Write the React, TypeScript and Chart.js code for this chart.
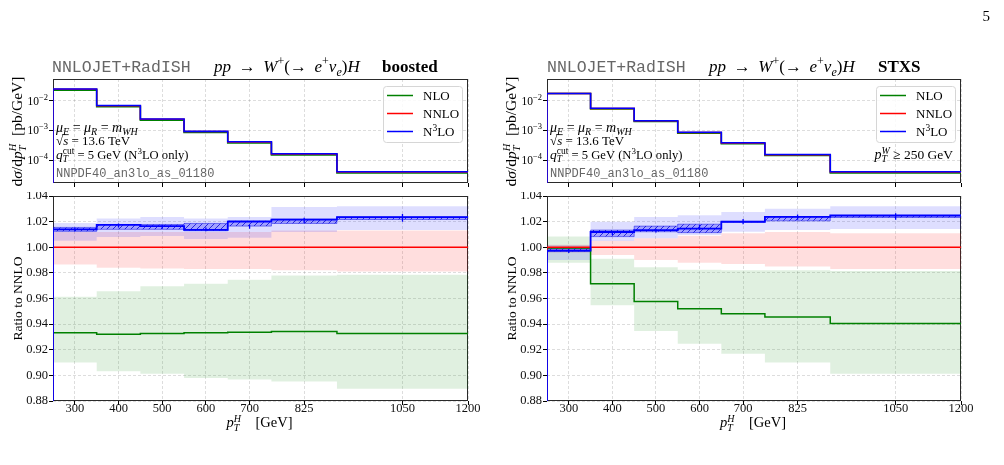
import React, { useEffect, useRef } from 'react';
import { Chart, registerables } from 'chart.js';

Chart.register(...registerables);

// ---------- binning, ticks and axis ranges ----------
const binEdges = [250, 350, 450, 550, 650, 750, 900, 1200];
const xTickValues = [300, 400, 500, 600, 700, 825, 1050, 1200];
const ratioTickValues = [0.88, 0.9, 0.92, 0.94, 0.96, 0.98, 1.0, 1.02, 1.04];
const logTickValues = [1e-4, 1e-3, 1e-2];
const logAxisRange = [1.7e-5, 0.053];
const ratioAxisRange = [0.88, 1.04];
const legendLabels = ['NLO', 'NNLO', 'N3LO'];

// ---------- boosted selection ----------
const boostedNNLO = [0.0241, 0.0067, 0.00236, 0.00091, 0.000403, 0.00016, 0.0000396];
const boostedNNLORatio = [1, 1, 1, 1, 1, 1, 1];
const boostedNNLOLo = [0.9866, 0.984, 0.9835, 0.983, 0.983, 0.982, 0.981];
const boostedNNLOHi = [1.012, 1.012, 1.012, 1.012, 1.012, 1.013, 1.013];
const boostedNLORatio = [0.9332, 0.9321, 0.9327, 0.9332, 0.9337, 0.9342, 0.9327];
const boostedNLOLo = [0.91, 0.9033, 0.9012, 0.898, 0.8968, 0.8953, 0.8896];
const boostedNLOHi = [0.9613, 0.9657, 0.9696, 0.9716, 0.9747, 0.978, 0.9786];
const boostedN3LORatio = [1.014, 1.0175, 1.0165, 1.0135, 1.02, 1.0215, 1.0235];
const boostedN3LOLo = [1.005, 1.008, 1.0088, 1.0065, 1.0075, 1.012, 1.0134];
const boostedN3LOHi = [1.019, 1.0225, 1.0237, 1.0225, 1.0237, 1.0315, 1.032];
const boostedQtLo = [1.0124, 1.014, 1.014, 1.0129, 1.0165, 1.0186, 1.0217];
const boostedQtHi = [1.0155, 1.0178, 1.0178, 1.0186, 1.0206, 1.022, 1.0237];
const boostedN3LOPoint = [1.014, 1.017, 1.016, 1.014, 1.016, 1.021, 1.023];
const boostedN3LOStat = [0.0015, 0.0015, 0.0015, 0.0015, 0.0015, 0.002, 0.003];

// ---------- STXS selection ----------
const stxsNNLO = [0.01725, 0.00543, 0.00207, 0.000848, 0.000373, 0.000151, 0.0000395];
const stxsNNLORatio = [1, 1, 1, 1, 1, 1, 1];
const stxsNNLOLo = [0.996, 0.994, 0.99, 0.988, 0.987, 0.985, 0.983];
const stxsNNLOHi = [1.002, 1.005, 1.007, 1.009, 1.011, 1.012, 1.011];
const stxsNLORatio = [0.9995, 0.9716, 0.9577, 0.952, 0.9481, 0.9456, 0.9404];
const stxsNLOLo = [0.988, 0.9548, 0.9347, 0.9247, 0.9169, 0.91, 0.9012];
const stxsNLOHi = [1.0083, 0.991, 0.9843, 0.9825, 0.982, 0.982, 0.9814];
const stxsN3LORatio = [0.9974, 1.0119, 1.0134, 1.0145, 1.0199, 1.0237, 1.0248];
const stxsN3LOLo = [0.99, 1.0049, 1.007, 1.0095, 1.0121, 1.0134, 1.0142];
const stxsN3LOHi = [1.0015, 1.0199, 1.0237, 1.025, 1.0276, 1.03, 1.032];
const stxsQtLo = [0.9966, 1.0083, 1.0121, 1.0114, 1.0196, 1.0206, 1.0232];
const stxsQtHi = [0.9992, 1.0134, 1.0165, 1.018, 1.0202, 1.0237, 1.0248];
const stxsN3LOPoint = [0.997, 1.011, 1.013, 1.0155, 1.02, 1.0235, 1.024];
const stxsN3LOStat = [0.0015, 0.0015, 0.0015, 0.002, 0.002, 0.002, 0.0025];

const SERIF = '"Liberation Serif", "Times New Roman", "DejaVu Serif", serif';
const MONO = '"Liberation Mono", "DejaVu Sans Mono", monospace';
const GREEN = '#008000';
const RED = '#ff0000';
const BLUE = '#0000ff';
const GRID = 'rgba(0,0,0,0.17)';

type Panel = {
  nnlo: number[];
  nnloRatio: number[]; nnloLo: number[]; nnloHi: number[];
  nloRatio: number[]; nloLo: number[]; nloHi: number[];
  n3loRatio: number[]; n3loLo: number[]; n3loHi: number[];
  qtLo: number[]; qtHi: number[];
  point: number[]; stat: number[];
};

const boosted: Panel = {
  nnlo: boostedNNLO, nnloRatio: boostedNNLORatio, nnloLo: boostedNNLOLo, nnloHi: boostedNNLOHi,
  nloRatio: boostedNLORatio, nloLo: boostedNLOLo, nloHi: boostedNLOHi,
  n3loRatio: boostedN3LORatio, n3loLo: boostedN3LOLo, n3loHi: boostedN3LOHi,
  qtLo: boostedQtLo, qtHi: boostedQtHi, point: boostedN3LOPoint, stat: boostedN3LOStat,
};
const stxs: Panel = {
  nnlo: stxsNNLO, nnloRatio: stxsNNLORatio, nnloLo: stxsNNLOLo, nnloHi: stxsNNLOHi,
  nloRatio: stxsNLORatio, nloLo: stxsNLOLo, nloHi: stxsNLOHi,
  n3loRatio: stxsN3LORatio, n3loLo: stxsN3LOLo, n3loHi: stxsN3LOHi,
  qtLo: stxsQtLo, qtHi: stxsQtHi, point: stxsN3LOPoint, stat: stxsN3LOStat,
};

// ---------- rich text (sub/superscripts) ----------
type Seg = { t: string; size: number; it?: boolean; bold?: boolean; mono?: boolean; dy?: number; color?: string; stack?: boolean; over?: boolean };
const M = (t: string, size: number, extra: Partial<Seg> = {}): Seg => ({ t, size, it: true, ...extra });
const R = (t: string, size: number, extra: Partial<Seg> = {}): Seg => ({ t, size, ...extra });

function segFont(s: Seg) {
  return `${s.it ? 'italic ' : ''}${s.bold ? 'bold ' : ''}${s.size}px ${s.mono ? MONO : SERIF}`;
}

function drawRich(ctx: CanvasRenderingContext2D, x: number, y: number, segs: Seg[], align: 'left' | 'center' | 'right' = 'left') {
  let cx = 0;
  let prevStart = 0;
  let prevW = 0;
  const items: [Seg, number, number][] = [];
  for (const s of segs) {
    ctx.font = segFont(s);
    const w = ctx.measureText(s.t).width;
    const sx = s.stack ? prevStart : cx;
    cx = s.stack ? prevStart + Math.max(prevW, w) : cx + w;
    items.push([s, sx, w]);
    prevStart = sx;
    prevW = w;
  }
  const ox = align === 'center' ? x - cx / 2 : align === 'right' ? x - cx : x;
  ctx.save();
  ctx.textAlign = 'left';
  ctx.textBaseline = 'alphabetic';
  for (const [s, sx, w] of items) {
    ctx.font = segFont(s);
    ctx.fillStyle = s.color || '#000';
    ctx.fillText(s.t, ox + sx, y + (s.dy || 0));
    if (s.over) {
      const yy = y + (s.dy || 0) - s.size * 0.8;
      ctx.strokeStyle = s.color || '#000';
      ctx.lineWidth = 0.8;
      ctx.beginPath();
      ctx.moveTo(ox + sx - 1, yy);
      ctx.lineTo(ox + sx + w + 0.5, yy);
      ctx.stroke();
    }
  }
  ctx.restore();
  return cx;
}

const titleMath: Seg[] = [
  M('pp', 17), R('\u2009 → \u2009', 17), M('W', 17), R('+', 12, { dy: -7 }), R('(→\u2009 ', 17),
  M('e', 17), R('+', 12, { dy: -7 }), M('ν', 17), M('e', 12, { dy: 4 }), R(')', 17), M('H', 17),
];
const infoLines: Seg[][] = [
  [M('μ', 14), M('F', 10, { dy: 3 }), R(' = ', 14), M('μ', 14), M('R', 10, { dy: 3 }), R(' = ', 14), M('m', 14), M('WH', 10, { dy: 3 })],
  [R('√', 13), M('s', 13, { over: true }), R(' = 13.6 TeV', 13)],
  [M('q', 13.5), R('cut', 9.5, { dy: -5.5 }), M('T', 9.5, { dy: 3, stack: true }), R(' = 5 GeV (N', 12.6), R('3', 9, { dy: -5 }), R('LO only)', 12.6)],
  [{ t: 'NNPDF40_an3lo_as_01180', size: 12, mono: true, color: '#666' }],
];
const yTitleTop: Seg[] = [
  R('d', 15.5), M('σ', 15.5), R('/d', 15.5), M('p', 15.5), M('H', 10.5, { dy: -6.5 }), M('T', 10.5, { dy: 3.5, stack: true }), R('  [pb/GeV]', 15.5),
];
const xTitle: Seg[] = [M('p', 14.5), M('H', 10, { dy: -5.5 }), M('T', 10, { dy: 3.5, stack: true }), R('    [GeV]', 14.5)];
const ptwCut: Seg[] = [M('p', 14), M('W', 10, { dy: -5.5 }), M('T', 10, { dy: 3, stack: true }), R(' ≥ 250 GeV', 13.5)];

function legendSegs(label: string): Seg[] {
  const m = label.match(/^(N)(\d)(LO)$/);
  if (m) return [R(m[1], 13), R(m[2], 9.5, { dy: -5 }), R(m[3], 13)];
  return [R(label, 13)];
}

function drawLegend(ctx: CanvasRenderingContext2D, area: any) {
  const w = 79;
  const h = 56;
  const x0 = area.right - 6 - w;
  const y0 = area.top + 7;
  ctx.save();
  ctx.beginPath();
  if ((ctx as any).roundRect) (ctx as any).roundRect(x0 + 0.5, y0 + 0.5, w, h, 3);
  else ctx.rect(x0 + 0.5, y0 + 0.5, w, h);
  ctx.fillStyle = 'rgba(255,255,255,0.85)';
  ctx.fill();
  ctx.strokeStyle = '#d6d6d6';
  ctx.lineWidth = 1;
  ctx.stroke();
  const colors = [GREEN, RED, BLUE];
  legendLabels.forEach((lab, i) => {
    const yc = y0 + 9.5 + i * 18;
    ctx.strokeStyle = colors[i];
    ctx.lineWidth = 1.5;
    ctx.beginPath();
    ctx.moveTo(x0 + 4, yc);
    ctx.lineTo(x0 + 30, yc);
    ctx.stroke();
    drawRich(ctx, x0 + 40, yc + 4.5, legendSegs(lab));
  });
  ctx.restore();
}

function drawRotated(ctx: CanvasRenderingContext2D, x: number, y: number, segs: Seg[]) {
  ctx.save();
  ctx.translate(x, y);
  ctx.rotate(-Math.PI / 2);
  drawRich(ctx, 0, 0, segs, 'center');
  ctx.restore();
}

// ---------- dataset helpers ----------
// histogram outline: each value holds from its lower bin edge to the next edge
const steps = (vals: number[], base?: number) => {
  const pts: { x: number; y: number }[] = vals.map((v, i) => ({ x: binEdges[i], y: v }));
  pts.push({ x: binEdges[binEdges.length - 1], y: vals[vals.length - 1] });
  if (base !== undefined) pts.unshift({ x: binEdges[0], y: base });
  return pts;
};
const errorBars = (c: number[], e: number[]) =>
  c.flatMap((v, i) => {
    const xc = (binEdges[i] + binEdges[i + 1]) / 2;
    return [{ x: xc, y: v - e[i] }, { x: xc, y: v + e[i] }, { x: xc, y: null as any }];
  });

const lineDs = (data: any[], color: string, width: number, extra: any = {}) => ({
  type: 'line', data, borderColor: color, borderWidth: width, stepped: 'before', fill: false,
  pointRadius: 0, pointHoverRadius: 0, tension: 0, ...extra,
});
const bandDs = (hi: number[], lo: number[], bg: any, edge = 'rgba(0,0,0,0)', edgeW = 0) => [
  lineDs(steps(hi), edge, edgeW, { fill: '+1', backgroundColor: bg }),
  lineDs(steps(lo), edge, edgeW),
];
const withOrder = (ds: any[]) => ds.map((d, i) => ({ ...d, order: ds.length - i }));

function hatchPattern() {
  const s = 6;
  const c = document.createElement('canvas');
  c.width = s;
  c.height = s;
  const g = c.getContext('2d')!;
  g.fillStyle = 'rgba(50,50,255,0.35)';
  g.fillRect(0, 0, s, s);
  g.strokeStyle = 'rgba(0,0,210,0.75)';
  g.lineWidth = 1;
  g.beginPath();
  g.moveTo(0, s); g.lineTo(s, 0);
  g.moveTo(-s / 2, s / 2); g.lineTo(s / 2, -s / 2);
  g.moveTo(s / 2, s * 1.5); g.lineTo(s * 1.5, s / 2);
  g.stroke();
  return g.createPattern(c, 'repeat');
}

// ---------- axis options ----------
function xAxis(showLabels: boolean, height: number) {
  return {
    type: 'linear', min: binEdges[0], max: binEdges[binEdges.length - 1],
    afterBuildTicks: (s: any) => { s.ticks = xTickValues.map((value) => ({ value })); },
    afterFit: (s: any) => { s.height = height; s.paddingLeft = 0; s.paddingRight = 0; },
    ticks: {
      display: showLabels, autoSkip: false, maxRotation: 0, padding: -4, color: '#111',
      font: { family: SERIF, size: 12.5 }, callback: (v: any) => String(v),
    },
    grid: { color: GRID, lineWidth: 0.8, tickLength: 4, tickColor: '#000', tickWidth: 1 },
    border: { display: false, dash: [3, 2] },
  };
}

function yAxisFit(width: number) {
  return (s: any) => { s.width = width; s.paddingTop = 0; s.paddingBottom = 0; };
}

type Geo = { left: number; top: number; width: number; height: number; area: [number, number, number, number] };

function topConfig(p: Panel, geo: Geo, decor: (ctx: CanvasRenderingContext2D, chart: any) => void) {
  const [al, at, ar, ab] = geo.area;
  const base = logAxisRange[0];
  const nlo = p.nnlo.map((v, i) => v * p.nloRatio[i]);
  const nnlo = p.nnlo.map((v, i) => v * p.nnloRatio[i]);
  const n3lo = p.nnlo.map((v, i) => v * p.n3loRatio[i]);
  const datasets = withOrder([
    lineDs(steps(nlo, base), GREEN, 1.6),
    lineDs(steps(nnlo, base), RED, 1.4),
    lineDs(steps(n3lo, base), BLUE, 1.6),
  ]);
  return {
    type: 'line',
    data: { datasets },
    options: {
      responsive: false, animation: false, events: [], devicePixelRatio: 1,
      layout: { padding: { left: 0, top: at - geo.top, right: geo.left + geo.width - ar, bottom: 0 } },
      plugins: { legend: { display: false }, tooltip: { enabled: false } },
      scales: {
        x: xAxis(false, geo.top + geo.height - ab),
        y: {
          type: 'logarithmic', min: logAxisRange[0], max: logAxisRange[1],
          afterBuildTicks: (s: any) => { s.ticks = logTickValues.map((value) => ({ value })); },
          afterFit: yAxisFit(al - geo.left),
          ticks: { display: false },
          grid: { color: GRID, lineWidth: 0.8, tickLength: 4, tickColor: '#000', tickWidth: 1 },
          border: { display: false, dash: [3, 2] },
        },
      },
    },
    plugins: [framePlugin(), decorPlugin(geo, decor)],
  };
}

function ratioConfig(p: Panel, geo: Geo, decor: (ctx: CanvasRenderingContext2D, chart: any) => void) {
  const [al, at, ar, ab] = geo.area;
  const base = ratioAxisRange[0];
  const datasets = withOrder([
    ...bandDs(p.nloHi, p.nloLo, 'rgba(0,128,0,0.12)'),
    ...bandDs(p.nnloHi, p.nnloLo, 'rgba(255,0,0,0.13)'),
    ...bandDs(p.n3loHi, p.n3loLo, 'rgba(0,0,255,0.13)'),
    ...bandDs(p.qtHi, p.qtLo, hatchPattern(), 'rgba(0,0,230,0.6)', 0.8),
    lineDs(steps(p.nloRatio, base), GREEN, 1.5),
    lineDs(steps(p.nnloRatio, base), RED, 1.3),
    lineDs(steps(p.n3loRatio, base), BLUE, 1.8),
    lineDs(errorBars(p.point, p.stat), BLUE, 1.3, { stepped: false, spanGaps: false }),
  ]);
  return {
    type: 'line',
    data: { datasets },
    options: {
      responsive: false, animation: false, events: [], devicePixelRatio: 1,
      layout: { padding: { left: 0, top: at - geo.top, right: geo.left + geo.width - ar, bottom: 0 } },
      plugins: { legend: { display: false }, tooltip: { enabled: false }, filler: { propagate: false } },
      scales: {
        x: xAxis(true, geo.top + geo.height - ab),
        y: {
          type: 'linear', min: ratioAxisRange[0], max: ratioAxisRange[1],
          afterBuildTicks: (s: any) => { s.ticks = ratioTickValues.map((value) => ({ value })); },
          afterFit: yAxisFit(al - geo.left),
          ticks: { padding: 1, color: '#111', font: { family: SERIF, size: 12.5 }, callback: (v: any) => Number(v).toFixed(2) },
          grid: { color: GRID, lineWidth: 0.8, tickLength: 4, tickColor: '#000', tickWidth: 1 },
          border: { display: false, dash: [3, 2] },
        },
      },
    },
    plugins: [framePlugin(), decorPlugin(geo, decor)],
  };
}

function framePlugin() {
  return {
    id: 'frame',
    beforeDatasetsDraw(chart: any) {
      const { ctx, chartArea: a } = chart;
      ctx.save();
      ctx.strokeStyle = '#2a2a2a';
      ctx.lineWidth = 1;
      ctx.strokeRect(a.left + 0.5, a.top + 0.5, a.right - a.left - 1, a.bottom - a.top - 1);
      ctx.restore();
    },
  };
}

function decorPlugin(geo: Geo, decor: (ctx: CanvasRenderingContext2D, chart: any) => void) {
  return {
    id: 'decor',
    afterDraw(chart: any) {
      const ctx = chart.ctx as CanvasRenderingContext2D;
      ctx.save();
      ctx.translate(-geo.left, -geo.top);
      decor(ctx, chart);
      ctx.restore();
    },
  };
}

// ---------- page decorations (absolute page coordinates) ----------
function drawLogLabels(ctx: CanvasRenderingContext2D, chart: any, xRight: number, topOffset: number) {
  const scale = chart.scales.y;
  logTickValues.forEach((v) => {
    const y = scale.getPixelForValue(v) + topOffset;
    const exp = Math.round(Math.log10(v));
    drawRich(ctx, xRight, y + 4, [R('10', 11.5), R('−' + Math.abs(exp), 8.5, { dy: -5 })], 'right');
  });
}

function topDecor(opts: { x0: number; mathX: number; tagX: number; tag: string; plotLeft: number; extra?: boolean; page?: boolean }) {
  return (ctx: CanvasRenderingContext2D, chart: any) => {
    drawRich(ctx, opts.x0, 72, [{ t: 'NNLOJET+RadISH', size: 16.5, mono: true, color: '#666' }]);
    drawRich(ctx, opts.mathX, 72, titleMath);
    drawRich(ctx, opts.tagX, 72, [R(opts.tag, 17, { bold: true })]);
    drawRotated(ctx, opts.plotLeft - 31, 131.5, yTitleTop);
    drawLogLabels(ctx, chart, opts.plotLeft - 5, 0);
    const ys = [132, 145, 159, 177];
    infoLines.forEach((segs, i) => drawRich(ctx, opts.plotLeft + 3, ys[i], segs));
    const a = chart.chartArea;
    const off = opts.plotLeft - a.left;
    drawLegend(ctx, { right: a.right + off, top: a.top });
    if (opts.extra) drawRich(ctx, a.right + off - 8, 159, ptwCut, 'right');
    if (opts.page) drawRich(ctx, 990, 21, [R('5', 15)], 'right');
  };
}

function ratioDecor(plotLeft: number, plotRight: number) {
  return (ctx: CanvasRenderingContext2D) => {
    drawRotated(ctx, plotLeft - 31, 298.5, [R('Ratio to NNLO', 13.5)]);
    drawRich(ctx, (plotLeft + plotRight) / 2 - 1, 427, xTitle, 'center');
  };
}

const geoTL: Geo = { left: 0, top: 0, width: 500, height: 192, area: [53, 79, 468, 183] };
const geoBL: Geo = { left: 0, top: 192, width: 500, height: 273, area: [53, 196, 468, 401] };
const geoTR: Geo = { left: 500, top: 0, width: 504, height: 192, area: [547, 79, 961, 183] };
const geoBR: Geo = { left: 500, top: 192, width: 504, height: 273, area: [547, 196, 961, 401] };

function ChartCanvas({ geo, build }: { geo: Geo; build: () => any }) {
  const ref = useRef<HTMLCanvasElement>(null);
  useEffect(() => {
    const chart = new Chart(ref.current as HTMLCanvasElement, build());
    return () => chart.destroy();
  }, []);
  return (
    <canvas
      ref={ref}
      width={geo.width}
      height={geo.height}
      style={{ position: 'absolute', left: geo.left, top: geo.top, width: geo.width, height: geo.height }}
    />
  );
}

export default function App() {
  return (
    <div style={{ position: 'absolute', left: 0, top: 0, width: 1004, height: 465, background: '#fff', overflow: 'hidden' }}>
      <ChartCanvas geo={geoTL} build={() => topConfig(boosted, geoTL, topDecor({ x0: 52, mathX: 214, tagX: 382, tag: 'boosted', plotLeft: 53 }))} />
      <ChartCanvas geo={geoBL} build={() => ratioConfig(boosted, geoBL, ratioDecor(53, 468))} />
      <ChartCanvas geo={geoTR} build={() => topConfig(stxs, geoTR, topDecor({ x0: 547, mathX: 709, tagX: 878, tag: 'STXS', plotLeft: 547, extra: true, page: true }))} />
      <ChartCanvas geo={geoBR} build={() => ratioConfig(stxs, geoBR, ratioDecor(547, 961))} />
    </div>
  );
}
